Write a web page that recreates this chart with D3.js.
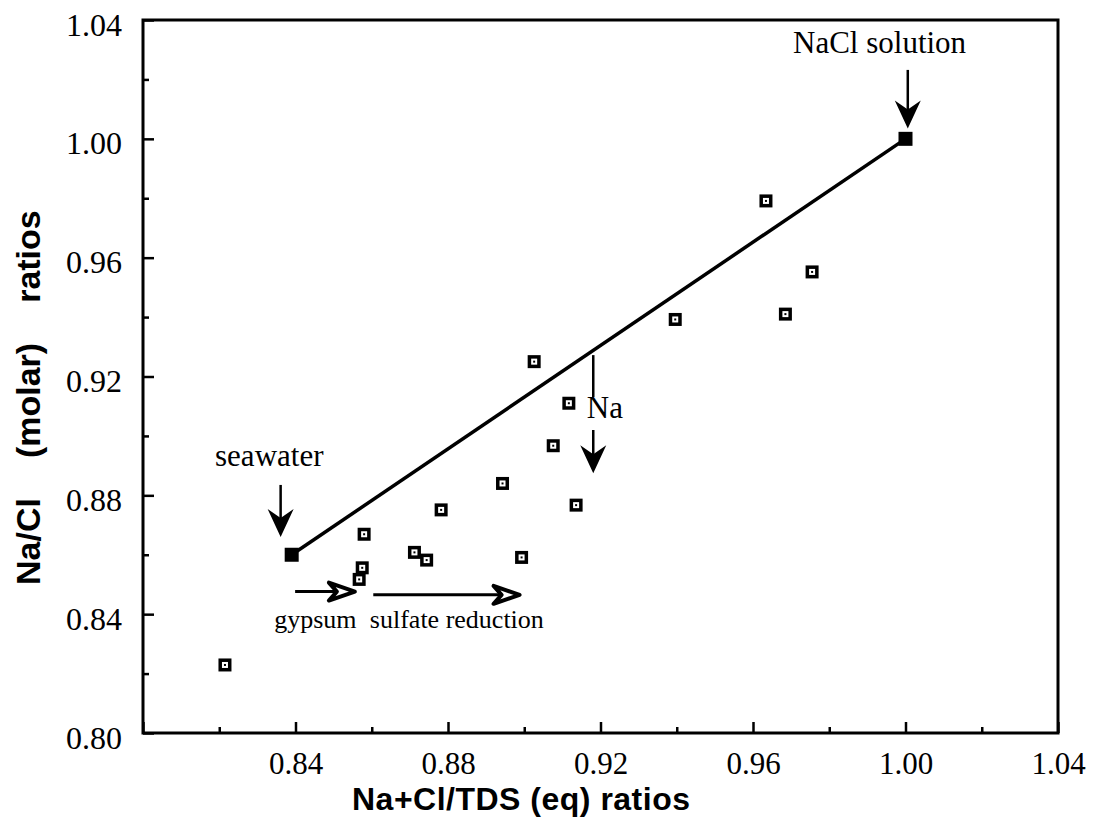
<!DOCTYPE html>
<html>
<head>
<meta charset="utf-8">
<script src="https://cdn.jsdelivr.net/npm/d3@7"></script>
<style>
  html, body { margin: 0; padding: 0; background: #fff; }
  svg { display: block; }
</style>
</head>
<body>
<svg id="chart" width="1093" height="827"></svg>
<script>
// Samples: Na+Cl/TDS (eq) ratio vs Na/Cl (molar) ratio
const sampleX = [0.8215, 0.8580, 0.8575, 0.8567, 0.8712, 0.8744, 0.8782, 0.8943, 0.8993,
                 0.9076, 0.9136, 0.9026, 0.9117, 0.9396, 0.9634, 0.9685, 0.9755];
const sampleY = [0.8229, 0.8669, 0.8556, 0.8517, 0.8608, 0.8582, 0.8751, 0.8840, 0.8591,
                 0.8967, 0.8767, 0.9250, 0.9110, 0.9392, 0.9791, 0.9410, 0.9552];

// End members joined by the mixing line
const endMemberNames = ["seawater", "NaCl solution"];
const endMemberX = [0.839, 1.000];
const endMemberY = [0.860, 1.000];

// Axis ticks
const majorTicks = [0.80, 0.84, 0.88, 0.92, 0.96, 1.00, 1.04];
const minorTicks = [0.82, 0.86, 0.90, 0.94, 0.98, 1.02];
const xTickLabels = ["", "0.84", "0.88", "0.92", "0.96", "1.00", "1.04"];
const yTickLabels = ["0.80", "0.84", "0.88", "0.92", "0.96", "1.00", "1.04"];
const xTitle = "Na+Cl/TDS (eq) ratios";
const yTitleParts = ["Na/Cl", "(molar)", "ratios"];

// Annotation anchors in data units
const pointerArrows = [   // filled arrows pointing down: x, yFrom, yTo
  { x: 0.8361, y0: 0.8835, y1: 0.8660 },
  { x: 1.0006, y0: 1.0232, y1: 1.0035 },
  { x: 0.9181, y0: 0.9020, y1: 0.8874 }
];
const processArrows = [   // open arrows pointing right: y, xFrom, xTo
  { y: 0.8476, x0: 0.8399, x1: 0.8561 },
  { y: 0.8465, x0: 0.8604, x1: 0.8993 }
];
const naStem = { x: 0.9181, y0: 0.9272, y1: 0.9131 };
const labels = [
  { text: "seawater", x: 0.8189, y: 0.8900, size: 31 },
  { text: "NaCl solution", x: 0.9705, y: 1.0289, size: 31 },
  { text: "Na", x: 0.9164, y: 0.9060, size: 31 },
  { text: "gypsum", x: 0.8344, y: 0.8353, size: 26 },
  { text: "sulfate reduction", x: 0.8595, y: 0.8353, size: 26 }
];

const svg = d3.select("#chart");
const plotLeft = 143, plotRight = 1058, plotTop = 20, plotBottom = 733;
const serif = "'Liberation Serif', 'Times New Roman', serif";
const sans = "'Liberation Sans', Arial, sans-serif";

const x = d3.scaleLinear().domain([0.80, 1.04]).range([plotLeft, plotRight]);
const y = d3.scaleLinear().domain([0.80, 1.04]).range([plotBottom, plotTop]);

// Minor ticks (inward, unlabeled)
svg.append("g").attr("transform", `translate(0,${plotBottom})`)
  .call(d3.axisBottom(x).tickValues(minorTicks).tickSize(-6).tickFormat(""))
  .call(g => g.select(".domain").remove())
  .call(g => g.selectAll("line").attr("stroke", "#000").attr("stroke-width", 2.5));
svg.append("g").attr("transform", `translate(${plotLeft},0)`)
  .call(d3.axisLeft(y).tickValues(minorTicks).tickSize(-6).tickFormat(""))
  .call(g => g.select(".domain").remove())
  .call(g => g.selectAll("line").attr("stroke", "#000").attr("stroke-width", 2.5));

// Major ticks with labels
svg.append("g").attr("transform", `translate(0,${plotBottom})`)
  .call(d3.axisBottom(x).tickValues(majorTicks).tickSize(-11).tickPadding(19)
    .tickFormat((d, i) => xTickLabels[i]))
  .call(g => g.select(".domain").remove())
  .call(g => g.selectAll("line").attr("stroke", "#000").attr("stroke-width", 2.5))
  .call(g => g.selectAll("text").attr("fill", "#000").attr("font-family", serif).attr("font-size", 31));
svg.append("g").attr("transform", `translate(${plotLeft},0)`)
  .call(d3.axisLeft(y).tickValues(majorTicks).tickSize(-11).tickPadding(21)
    .tickFormat((d, i) => yTickLabels[i]))
  .call(g => g.select(".domain").remove())
  .call(g => g.selectAll("line").attr("stroke", "#000").attr("stroke-width", 2.5))
  .call(g => g.selectAll("text").attr("fill", "#000").attr("font-family", serif).attr("font-size", 32).attr("dy", "0.47em"));

// Plot frame
svg.append("rect")
  .attr("x", plotLeft).attr("y", plotTop)
  .attr("width", plotRight - plotLeft).attr("height", plotBottom - plotTop)
  .attr("fill", "none").attr("stroke", "#000").attr("stroke-width", 3);

// Axis titles
svg.append("text")
  .attr("x", 352).attr("y", 810)
  .attr("font-family", sans).attr("font-weight", "bold").attr("font-size", 32)
  .attr("textLength", 338).attr("lengthAdjust", "spacing")
  .text(xTitle);

const yt = svg.append("text")
  .attr("transform", "translate(40,585) rotate(-90)")
  .attr("font-family", sans).attr("font-weight", "bold").attr("font-size", 34);
yTitleParts.forEach((t, i) => {
  yt.append("tspan").attr("dx", i === 0 ? 0 : 40).text(t);
});

// Mixing line between end members
svg.append("line")
  .attr("x1", x(endMemberX[0])).attr("y1", y(endMemberY[0]))
  .attr("x2", x(endMemberX[1])).attr("y2", y(endMemberY[1]))
  .attr("stroke", "#000").attr("stroke-width", 3.5);

// End member markers
svg.selectAll(".endmember")
  .data(endMemberNames.map((n, i) => ({ n, vx: endMemberX[i], vy: endMemberY[i] })))
  .join("rect")
  .attr("class", "endmember")
  .attr("x", d => x(d.vx) - 7).attr("y", d => y(d.vy) - 7)
  .attr("width", 14).attr("height", 14).attr("fill", "#000");

// Sample markers: black square, white core, black dot
const samples = sampleX.map((vx, i) => ({ vx, vy: sampleY[i] }));
const pts = svg.selectAll(".sample").data(samples).join("g")
  .attr("class", "sample")
  .attr("transform", d => `translate(${x(d.vx)},${y(d.vy)})`);
pts.append("rect").attr("x", -6.5).attr("y", -6.5).attr("width", 13).attr("height", 13).attr("fill", "#000");
pts.append("rect").attr("x", -3).attr("y", -3).attr("width", 6).attr("height", 6).attr("fill", "#fff");
pts.append("rect").attr("x", -1).attr("y", -1).attr("width", 2).attr("height", 2).attr("fill", "#000");

// Na stem from the mixing line
svg.append("line")
  .attr("x1", x(naStem.x)).attr("y1", y(naStem.y0))
  .attr("x2", x(naStem.x)).attr("y2", y(naStem.y1))
  .attr("stroke", "#000").attr("stroke-width", 2.5);

// Filled downward arrows
pointerArrows.forEach(a => {
  const ax = x(a.x), ay0 = y(a.y0), ay1 = y(a.y1);
  svg.append("line")
    .attr("x1", ax).attr("y1", ay0).attr("x2", ax).attr("y2", ay1 - 12)
    .attr("stroke", "#000").attr("stroke-width", 2.5);
  svg.append("path")
    .attr("d", `M${ax},${ay1} L${ax - 13},${ay1 - 28} L${ax},${ay1 - 19} L${ax + 13},${ay1 - 28} Z`)
    .attr("fill", "#000");
});

// Open rightward arrows
processArrows.forEach(a => {
  const ay = y(a.y), ax0 = x(a.x0), ax1 = x(a.x1);
  svg.append("line")
    .attr("x1", ax0).attr("y1", ay).attr("x2", ax1 - 20).attr("y2", ay)
    .attr("stroke", "#000").attr("stroke-width", 3);
  svg.append("path")
    .attr("d", `M${ax1 - 2},${ay} L${ax1 - 28},${ay - 9} L${ax1 - 20},${ay} L${ax1 - 28},${ay + 9} Z`)
    .attr("fill", "#fff").attr("stroke", "#000").attr("stroke-width", 4)
    .attr("stroke-linejoin", "round");
});

// Annotation labels
svg.selectAll(".label").data(labels).join("text")
  .attr("class", "label")
  .attr("x", d => x(d.x)).attr("y", d => y(d.y))
  .attr("font-family", serif).attr("font-size", d => d.size)
  .attr("fill", "#000")
  .text(d => d.text);
</script>
</body>
</html>
